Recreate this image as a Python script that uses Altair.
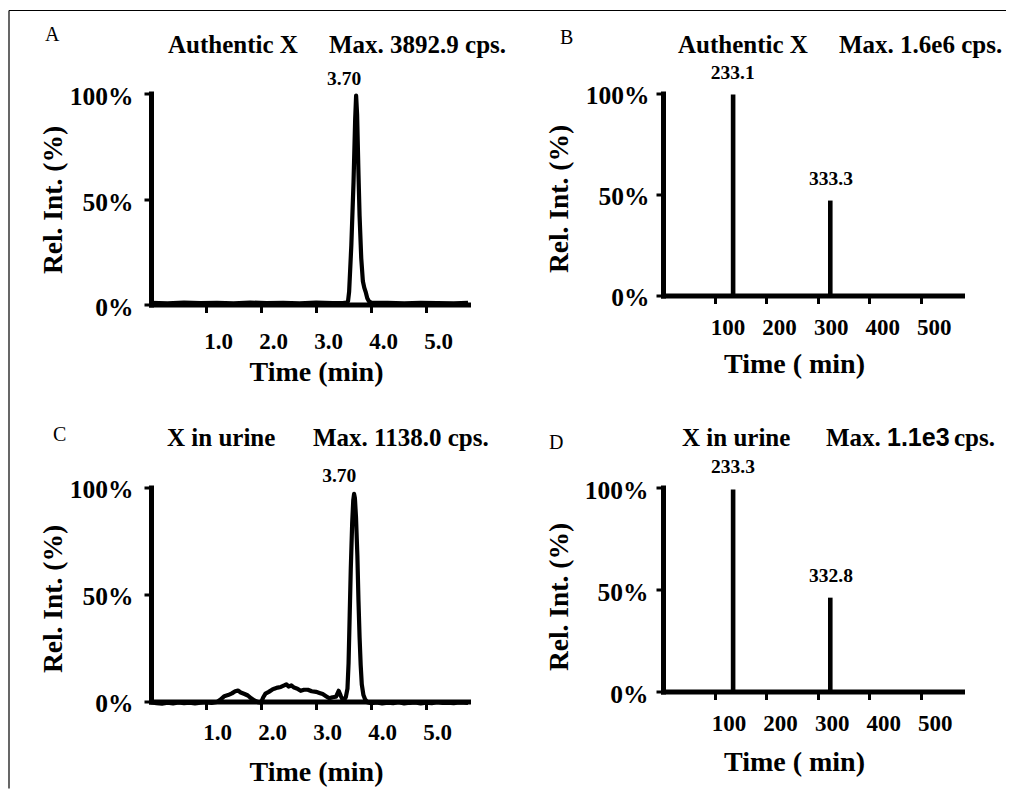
import altair as alt
import pandas as pd

SERIF = "Liberation Serif"
SANS = "Liberation Sans"

# ---------------- data ----------------
# Panel A: chromatogram of authentic X (relative intensity, %)
a_time = [0.0, 0.3, 0.6, 0.9, 1.2, 1.5, 1.8, 2.1, 2.4, 2.7, 3.0, 3.3, 3.5,
          3.55, 3.58, 3.60, 3.64, 3.68, 3.71, 3.727, 3.745, 3.77, 3.79, 3.82, 3.85, 3.875, 3.90, 3.93, 3.96, 4.0,
          4.3, 4.6, 4.9, 5.2, 5.5, 5.76]
a_int = [0.8, 0.6, 0.9, 0.7, 0.8, 0.6, 0.9, 0.7, 0.8, 0.6, 0.9, 0.7, 0.8,
         0.9, 1.5, 6, 28, 58, 88, 99, 90, 62, 42, 22, 11, 8, 6, 3, 1.5, 0.9,
         0.8, 0.6, 0.8, 0.7, 0.6, 0.8]

# Panel C: chromatogram of X in urine
c_time = [0.0, 0.1, 0.2, 0.3, 0.4, 0.5, 0.6, 0.7, 0.8, 0.9, 1.0, 1.1, 1.2,
          1.27, 1.33, 1.40, 1.47, 1.53, 1.58, 1.63, 1.70, 1.76, 1.82, 1.88, 1.94, 2.0,
          2.04, 2.08, 2.14, 2.2, 2.24, 2.3, 2.36, 2.42, 2.46, 2.5, 2.55, 2.6, 2.66, 2.72,
          2.78, 2.85, 2.92, 3.0, 3.06, 3.12, 3.18, 3.24, 3.30, 3.36, 3.41, 3.45, 3.48, 3.51,
          3.54, 3.57, 3.59, 3.61, 3.63, 3.655, 3.675, 3.69, 3.705, 3.725, 3.75, 3.77, 3.79,
          3.81, 3.83, 3.86, 3.89, 3.93,
          4.0, 4.1, 4.2, 4.3, 4.4, 4.5, 4.6, 4.7, 4.8, 4.9, 5.0, 5.1, 5.2, 5.3, 5.4, 5.5, 5.6, 5.76]
c_int = [-0.3, -0.8, -1.0, -0.6, -0.9, -0.4, -0.8, -0.5, -0.9, -0.6, -0.3, -0.7, -0.2,
         1.0, 2.5, 3.0, 3.8, 4.8, 5.1, 4.2, 3.5, 2.8, 1.5, 0.5, -0.3, -0.5,
         2.0, 3.7, 4.5, 5.5, 6.0, 6.5, 6.8, 7.5, 8.0, 7.0, 7.5, 6.5, 6.0, 5.0,
         5.5, 5.5, 4.8, 4.5, 4.0, 3.5, 2.5, 1.5, 2.0, 2.2, 5.0, 2.5, 1.0, 0.8,
         2, 6, 18, 40, 62, 83, 94, 97, 95, 86, 68, 47, 30,
         17, 8, 3, 1, -0.3,
         -0.8, -0.4, -0.9, -0.5, -0.8, -0.3, -0.9, -0.6, -0.4, -0.9, -0.5, -0.8, -0.3, -0.7, -0.5, -0.8, -0.4, -0.6]

# Panels B / D: spectra (peak positions on the axis scale, relative intensity)
b_pos = [136, 324.5]
b_int = [99.5, 47]
d_pos = [136, 324.5]
d_int = [99, 46]

# Peak annotations (text, x, y in data units)
a_lab_text = ["3.70"]
a_lab_x = [3.51]
a_lab_y = [103.8]
c_lab_text = ["3.70"]
c_lab_x = [3.42]
c_lab_y = [102.8]
b_lab_text = ["233.1", "333.3"]
b_lab_x = [135.2, 326.0]
b_lab_y = [107.4, 54.5]
d_lab_text = ["233.3", "332.8"]
d_lab_x = [135.8, 326.0]
d_lab_y = [107.2, 53.8]

# Tick values
time_ticks = [1, 2, 3, 4, 5]
mz_ticks = [100, 200, 300, 400, 500]
pct_ticks = [0, 50, 100]


def one(text):
    return pd.DataFrame({"t": [text]})


def text_at(text, x, y, size, font=SERIF, weight="bold"):
    return alt.Chart(one(text)).mark_text(
        align="left", baseline="alphabetic", font=font, fontSize=size,
        fontWeight=weight, color="black"
    ).encode(text="t:N", x=alt.value(x), y=alt.value(y))


def axes(kind, xax, yax):
    if kind == "time":
        xs = alt.Scale(domain=[0, 5.76], nice=False, zero=False)
        xa = alt.Axis(values=time_ticks, format=".1f", title=xax["title"],
                      labelPadding=xax["lp"], labelOffset=xax["dx"], labelBaseline="alphabetic",
                      titleX=xax["tx"], titleY=xax["ty"], titleBaseline="alphabetic",
                      titleAnchor="start", titleAlign="center")
    else:
        xs = alt.Scale(domain=[0, 580], nice=False, zero=False)
        xa = alt.Axis(values=mz_ticks, format="d", title=xax["title"],
                      labelPadding=xax["lp"], labelOffset=xax["dx"], labelBaseline="alphabetic",
                      titleX=xax["tx"], titleY=xax["ty"], titleBaseline="alphabetic",
                      titleAnchor="start", titleAlign="center")
    ys = alt.Scale(domain=[0, 100], nice=False, zero=False)
    ya = alt.Axis(values=pct_ticks, labelExpr="datum.value + '%'", title="Rel. Int. (%)",
                  labelPadding=yax["lp"], labelOffset=yax["dy"],
                  titleX=yax["tx"], titleY=yax["ty"], titleBaseline="middle",
                  titleAnchor="start", titleAlign="center", titleAngle=270)
    return xs, xa, ys, ya


def chrom_panel(time, inten, lab_t, lab_x, lab_y, w, h, xax, yax, titles):
    xs, xa, ys, ya = axes("time", xax, yax)
    df = pd.DataFrame({"x": time, "v": inten})
    line = alt.Chart(df).mark_line(color="black", strokeWidth=4.2, strokeJoin="round").encode(
        x=alt.X("x:Q", scale=xs, axis=xa),
        y=alt.Y("v:Q", scale=ys, axis=ya),
    )
    ldf = pd.DataFrame({"x": lab_x, "v": lab_y, "lab": lab_t})
    labels = alt.Chart(ldf).mark_text(
        font=SERIF, fontWeight="bold", fontSize=19.5, baseline="alphabetic", align="center", color="black"
    ).encode(x=alt.X("x:Q", scale=xs, axis=xa), y=alt.Y("v:Q", scale=ys, axis=ya), text="lab:N")
    return alt.layer(line, labels, *titles).properties(width=w, height=h)


def spec_panel(pos, inten, lab_t, lab_x, lab_y, w, h, xax, yax, titles):
    xs, xa, ys, ya = axes("mz", xax, yax)
    df = pd.DataFrame({"x": pos, "v": inten})
    bars = alt.Chart(df).mark_rule(color="black", strokeWidth=4.6).encode(
        x=alt.X("x:Q", scale=xs, axis=xa),
        y=alt.Y("v:Q", scale=ys, axis=ya),
        y2=alt.datum(0),
    )
    ldf = pd.DataFrame({"x": lab_x, "v": lab_y, "lab": lab_t})
    labels = alt.Chart(ldf).mark_text(
        font=SERIF, fontWeight="bold", fontSize=19.5, baseline="alphabetic", align="center", color="black"
    ).encode(x=alt.X("x:Q", scale=xs, axis=xa), y=alt.Y("v:Q", scale=ys, axis=ya), text="lab:N")
    return alt.layer(bars, labels, *titles).properties(width=w, height=h)


# Figure frame (top and left border lines), drawn relative to panel A
frame_top = alt.Chart(one("f")).mark_rule(color="black", strokeWidth=1.2).encode(
    x=alt.value(-142), x2=alt.value(855), y=alt.value(-83))
frame_left = alt.Chart(one("f")).mark_rule(color="black", strokeWidth=1.2).encode(
    x=alt.value(-142), y=alt.value(-83), y2=alt.value(695))

TS = 25  # panel heading size
LS = 20  # panel letter size

panel_a = chrom_panel(
    a_time, a_int, a_lab_text, a_lab_x, a_lab_y, 317, 211,
    {"title": "Time (min)", "lp": 35.5, "dx": 12, "tx": 165, "ty": 76},
    {"lp": 11, "dy": 3, "tx": -98, "ty": 106},
    [frame_top, frame_left,
     text_at("A", -106, -53, LS, weight="normal"),
     text_at("Authentic X", 17, -41, TS),
     text_at("Max. 3892.9 cps.", 178, -41, TS)],
)

panel_b = spec_panel(
    b_pos, b_int, b_lab_text, b_lab_x, b_lab_y, 299, 202,
    {"title": "Time ( min)", "lp": 30.5, "dx": 13, "tx": 131, "ty": 77},
    {"lp": 7, "dy": 2, "tx": -104, "ty": 105},
    [text_at("B", -103, -50, LS, weight="normal"),
     text_at("Authentic X", 15, -41, TS),
     text_at("Max. 1.6e6 cps.", 176, -41, TS)],
)

panel_c = chrom_panel(
    c_time, c_int, c_lab_text, c_lab_x, c_lab_y, 317, 214,
    {"title": "Time (min)", "lp": 29.5, "dx": 11, "tx": 165, "ty": 79},
    {"lp": 11, "dy": 2, "tx": -98, "ty": 111},
    [text_at("C", -98, -47, LS, weight="normal"),
     text_at("X in urine", 16, -42, TS),
     text_at("Max. 1138.0 cps.", 162, -42, TS)],
)

panel_d = spec_panel(
    d_pos, d_int, d_lab_text, d_lab_x, d_lab_y, 299, 204,
    {"title": "Time ( min)", "lp": 30.5, "dx": 14, "tx": 131, "ty": 79},
    {"lp": 8, "dy": 3, "tx": -104, "ty": 109},
    [text_at("D", -114, -39, LS, weight="normal"),
     text_at("X in urine", 19, -42, TS),
     text_at("Max.", 163, -42, TS),
     text_at("1.1e3", 224, -42, TS, font=SANS),
     text_at("cps.", 291, -42, TS)],
)

chart = alt.concat(
    panel_a, panel_b, panel_c, panel_d,
    columns=2,
    spacing=alt.RowColnumber(row=183, column=195),
    bounds="flush",
    align="each",
).properties(
    padding={"left": 0, "top": 1.5, "right": 0, "bottom": 0}
).configure_view(
    stroke=None
).configure_axis(
    grid=False,
    domainColor="black", domainWidth=5, domainCap="square",
    tickColor="black", tickWidth=3,
    labelFont=SERIF, labelFontWeight="bold", labelColor="black",
    titleFont=SERIF, titleFontWeight="bold", titleColor="black",
).configure_axisX(
    tickSize=8, labelFontSize=23, titleFontSize=28,
).configure_axisY(
    tickSize=7, labelFontSize=25.5, titleFontSize=27.5,
)

chart.save("out.html", embed_options={"renderer": "svg", "actions": False})
